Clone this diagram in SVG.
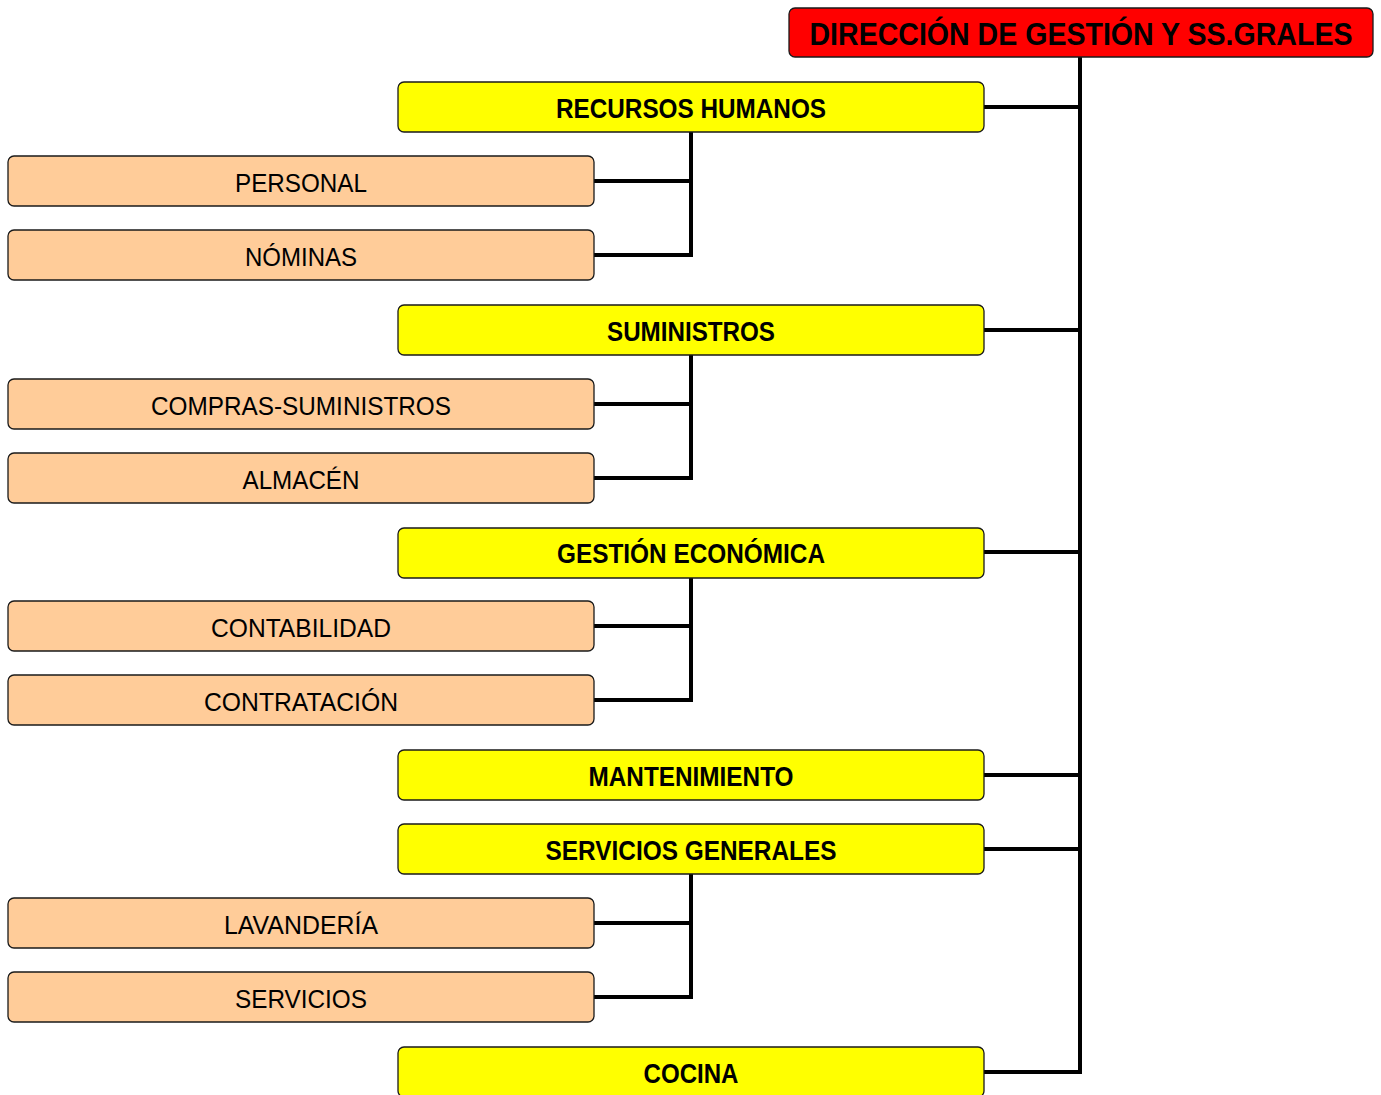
<svg xmlns="http://www.w3.org/2000/svg" width="1381" height="1095" viewBox="0 0 1381 1095">
<style>
.box{stroke:#1a1a1a;stroke-width:1.3}
.red{fill:#FF0000}
.yel{fill:#FFFF00}
.org{fill:#FFCC99}
text{font-family:"Liberation Sans",Arial,sans-serif;text-anchor:middle;fill:#000}
.t1{font-size:31px;font-weight:bold}
.t2{font-size:27px;font-weight:bold}
.t3{font-size:25px}
.c{stroke:#000;stroke-width:4;fill:none}
</style>
<rect width="1381" height="1095" fill="#fff"/>
<g id="connectors">
<path class="c" d="M1080,57 V1072"/>
<path class="c" d="M984,107 H1082 M984,330 H1082 M984,552 H1082 M984,775 H1082 M984,849 H1082 M984,1072 H1082"/>
<path class="c" d="M691,132 V255 M594,181 H693 M594,255 H693"/>
<path class="c" d="M691,355 V478 M594,404 H693 M594,478 H693"/>
<path class="c" d="M691,578 V700 M594,626 H693 M594,700 H693"/>
<path class="c" d="M691,874 V997 M594,923 H693 M594,997 H693"/>
</g>
<g id="n-direccion"><rect class="box red" x="789" y="8" width="584" height="49" rx="6"/><text class="t1" x="1081" y="45" textLength="543" lengthAdjust="spacingAndGlyphs">DIRECCIÓN DE GESTIÓN Y SS.GRALES</text></g>
<g id="n-rrhh"><rect class="box yel" x="398" y="82" width="586" height="50" rx="6"/><text class="t2" x="691" y="118" textLength="270" lengthAdjust="spacingAndGlyphs">RECURSOS HUMANOS</text></g>
<g id="n-personal"><rect class="box org" x="8" y="156" width="586" height="50" rx="6"/><text class="t3" x="301" y="192" textLength="132" lengthAdjust="spacingAndGlyphs">PERSONAL</text></g>
<g id="n-nominas"><rect class="box org" x="8" y="230" width="586" height="50" rx="6"/><text class="t3" x="301" y="266" textLength="112" lengthAdjust="spacingAndGlyphs">NÓMINAS</text></g>
<g id="n-suministros"><rect class="box yel" x="398" y="305" width="586" height="50" rx="6"/><text class="t2" x="691" y="341" textLength="168" lengthAdjust="spacingAndGlyphs">SUMINISTROS</text></g>
<g id="n-compras"><rect class="box org" x="8" y="379" width="586" height="50" rx="6"/><text class="t3" x="301" y="415" textLength="300" lengthAdjust="spacingAndGlyphs">COMPRAS-SUMINISTROS</text></g>
<g id="n-almacen"><rect class="box org" x="8" y="453" width="586" height="50" rx="6"/><text class="t3" x="301" y="489" textLength="117" lengthAdjust="spacingAndGlyphs">ALMACÉN</text></g>
<g id="n-gestion"><rect class="box yel" x="398" y="528" width="586" height="50" rx="6"/><text class="t2" x="691" y="563" textLength="268" lengthAdjust="spacingAndGlyphs">GESTIÓN ECONÓMICA</text></g>
<g id="n-contabilidad"><rect class="box org" x="8" y="601" width="586" height="50" rx="6"/><text class="t3" x="301" y="637" textLength="180" lengthAdjust="spacingAndGlyphs">CONTABILIDAD</text></g>
<g id="n-contratacion"><rect class="box org" x="8" y="675" width="586" height="50" rx="6"/><text class="t3" x="301" y="711" textLength="194" lengthAdjust="spacingAndGlyphs">CONTRATACIÓN</text></g>
<g id="n-mantenimiento"><rect class="box yel" x="398" y="750" width="586" height="50" rx="6"/><text class="t2" x="691" y="786" textLength="205" lengthAdjust="spacingAndGlyphs">MANTENIMIENTO</text></g>
<g id="n-servgen"><rect class="box yel" x="398" y="824" width="586" height="50" rx="6"/><text class="t2" x="691" y="860" textLength="291" lengthAdjust="spacingAndGlyphs">SERVICIOS GENERALES</text></g>
<g id="n-lavanderia"><rect class="box org" x="8" y="898" width="586" height="50" rx="6"/><text class="t3" x="301" y="934" textLength="154" lengthAdjust="spacingAndGlyphs">LAVANDERÍA</text></g>
<g id="n-servicios"><rect class="box org" x="8" y="972" width="586" height="50" rx="6"/><text class="t3" x="301" y="1008" textLength="132" lengthAdjust="spacingAndGlyphs">SERVICIOS</text></g>
<g id="n-cocina"><rect class="box yel" x="398" y="1047" width="586" height="50" rx="6"/><text class="t2" x="691" y="1083" textLength="95" lengthAdjust="spacingAndGlyphs">COCINA</text></g>
</svg>
